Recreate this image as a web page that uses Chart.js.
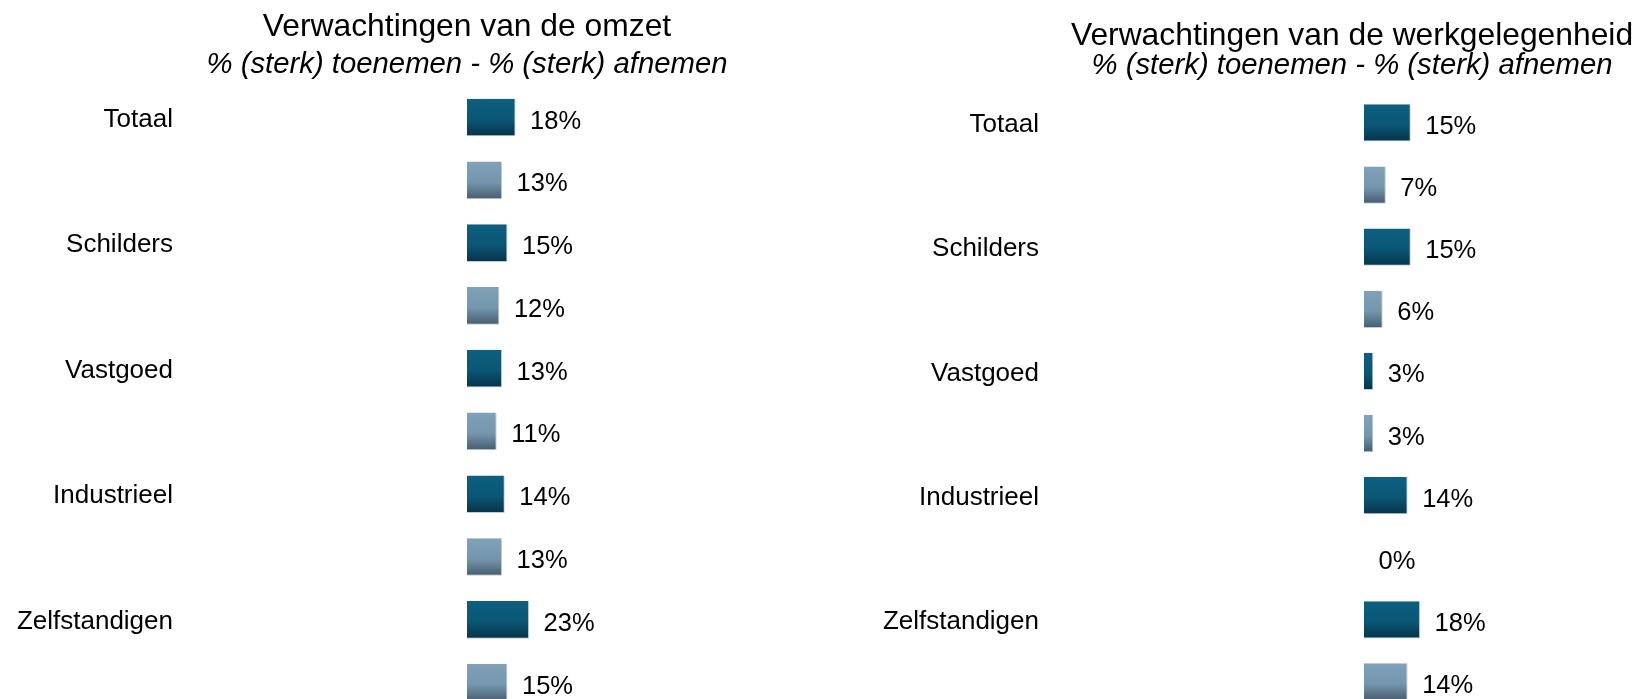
<!DOCTYPE html>
<html lang="nl">
<head>
<meta charset="utf-8">
<title>Verwachtingen omzet en werkgelegenheid</title>
<script src="https://cdn.jsdelivr.net/npm/chart.js@4.4.1/dist/chart.umd.min.js"></script>
<style>
  html, body { margin: 0; padding: 0; background: #fff; overflow: hidden; }
  body { width: 1637px; height: 699px; position: relative; }
  canvas { position: absolute; top: 0; }
  #omzetChart { left: 0; }
  #werkChart { left: 860px; }
</style>
</head>
<body>
<canvas id="omzetChart" width="934" height="730"></canvas>
<canvas id="werkChart" width="984" height="730"></canvas>
<script>
// Gegevens
const categories = ["Totaal", "Schilders", "Vastgoed", "Industrieel", "Zelfstandigen"];
const omzetDonker = [18, 15, 13, 14, 23];
const omzetLicht = [13, 12, 11, 13, 15];
const werkDonker = [15, 15, 3, 14, 18];
const werkLicht = [7, 6, 3, 0, 14];

const FONT = '"Liberation Sans", Arial, sans-serif';

// Rijen: elke categorie krijgt twee balken onder elkaar
function rowLabels() {
  const rows = [];
  categories.forEach((c) => rows.push(c, ""));
  return rows;
}

function interleave(values, offset) {
  const rows = new Array(categories.length * 2).fill(null);
  values.forEach((v, i) => (rows[i * 2 + offset] = v));
  return rows;
}

// Verticaal verloop per balk
function barFill(top, mid, bottom) {
  return function (context) {
    const chart = context.chart;
    const yScale = chart.scales.y;
    if (context.type !== "data" || !chart.chartArea || !yScale) {
      return mid;
    }
    const yc = yScale.getPixelForValue(context.dataIndex);
    const half = (yScale.getPixelForValue(1) - yScale.getPixelForValue(0)) * 0.3;
    const g = chart.ctx.createLinearGradient(0, yc - half, 0, yc + half);
    g.addColorStop(0, top);
    g.addColorStop(0.55, mid);
    g.addColorStop(1, bottom);
    return g;
  };
}

// Percentages naast de balken
const valueLabels = {
  id: "valueLabels",
  afterDatasetsDraw(chart) {
    const ctx = chart.ctx;
    ctx.save();
    ctx.font = "25.5px " + FONT;
    ctx.fillStyle = "#000";
    ctx.textAlign = "left";
    ctx.textBaseline = "middle";
    chart.data.datasets.forEach((ds, i) => {
      chart.getDatasetMeta(i).data.forEach((bar, j) => {
        const v = ds.data[j];
        if (v === null || v === undefined) return;
        ctx.fillText(v + "%", bar.x + 14.5, bar.y + 4);
      });
    });
    ctx.restore();
  },
};

function createChart(canvasId, cfg) {
  const ctx = document.getElementById(canvasId).getContext("2d");

  return new Chart(ctx, {
    type: "bar",
    data: {
      labels: rowLabels(),
      datasets: [
        {
          data: interleave(cfg.donker, 0),
          backgroundColor: barFill("#0d5f80", "#0a5675", "#05344a"),
        },
        {
          data: interleave(cfg.licht, 1),
          backgroundColor: barFill("#80a1b7", "#7497ae", "#465c6d"),
        },
      ],
    },
    plugins: [valueLabels],
    options: {
      indexAxis: "y",
      responsive: false,
      animation: false,
      datasets: {
        bar: {
          grouped: false,
          barPercentage: 0.6,
          categoryPercentage: 1,
          borderSkipped: "start",
          borderColor: "rgba(190,198,204,0.9)",
          borderWidth: (c) =>
            c.raw ? { top: 0, left: 0, right: 1, bottom: 1 } : 0,
        },
      },
      layout: {
        padding: { left: 0, right: 0, top: 0, bottom: cfg.padBottom },
      },
      scales: {
        x: {
          display: false,
          min: 0,
          max: cfg.xMax,
        },
        y: {
          grid: { display: false },
          border: { display: false },
          ticks: {
            color: "#000",
            autoSkip: false,
            padding: cfg.labelGap,
            labelOffset: 2,
            font: { size: 26, family: FONT },
          },
          afterFit: (scale) => {
            // vaste breedte, geen extra marge boven/onder
            scale.width = cfg.axisWidth;
            scale.paddingTop = 0;
            scale.paddingBottom = 0;
          },
        },
      },
      plugins: {
        legend: { display: false },
        tooltip: { enabled: false },
        title: {
          display: true,
          text: cfg.title,
          color: "#000",
          font: { size: 31.8, family: FONT, weight: "normal", lineHeight: 0.9 },
          padding: { top: cfg.titleTop, bottom: 0 },
        },
        subtitle: {
          display: true,
          text: "% (sterk) toenemen - % (sterk) afnemen",
          color: "#000",
          font: { size: 29.3, family: FONT, style: "italic", lineHeight: 1 },
          padding: { top: cfg.subTop, bottom: cfg.subGap },
        },
      },
    },
  });
}

createChart("omzetChart", {
  title: "Verwachtingen van de omzet",
  donker: omzetDonker,
  licht: omzetLicht,
  axisWidth: 467,
  labelGap: 286,
  xMax: 173,
  padBottom: 16,
  titleTop: 12.5,
  subTop: 9.5,
  subGap: 6.2,
});

createChart("werkChart", {
  title: "Verwachtingen van de werkgelegenheid",
  donker: werkDonker,
  licht: werkLicht,
  axisWidth: 504,
  labelGap: 317,
  xMax: 154,
  padBottom: 17,
  titleTop: 22,
  subTop: 0.5,
  subGap: 11.5,
});
</script>
</body>
</html>
